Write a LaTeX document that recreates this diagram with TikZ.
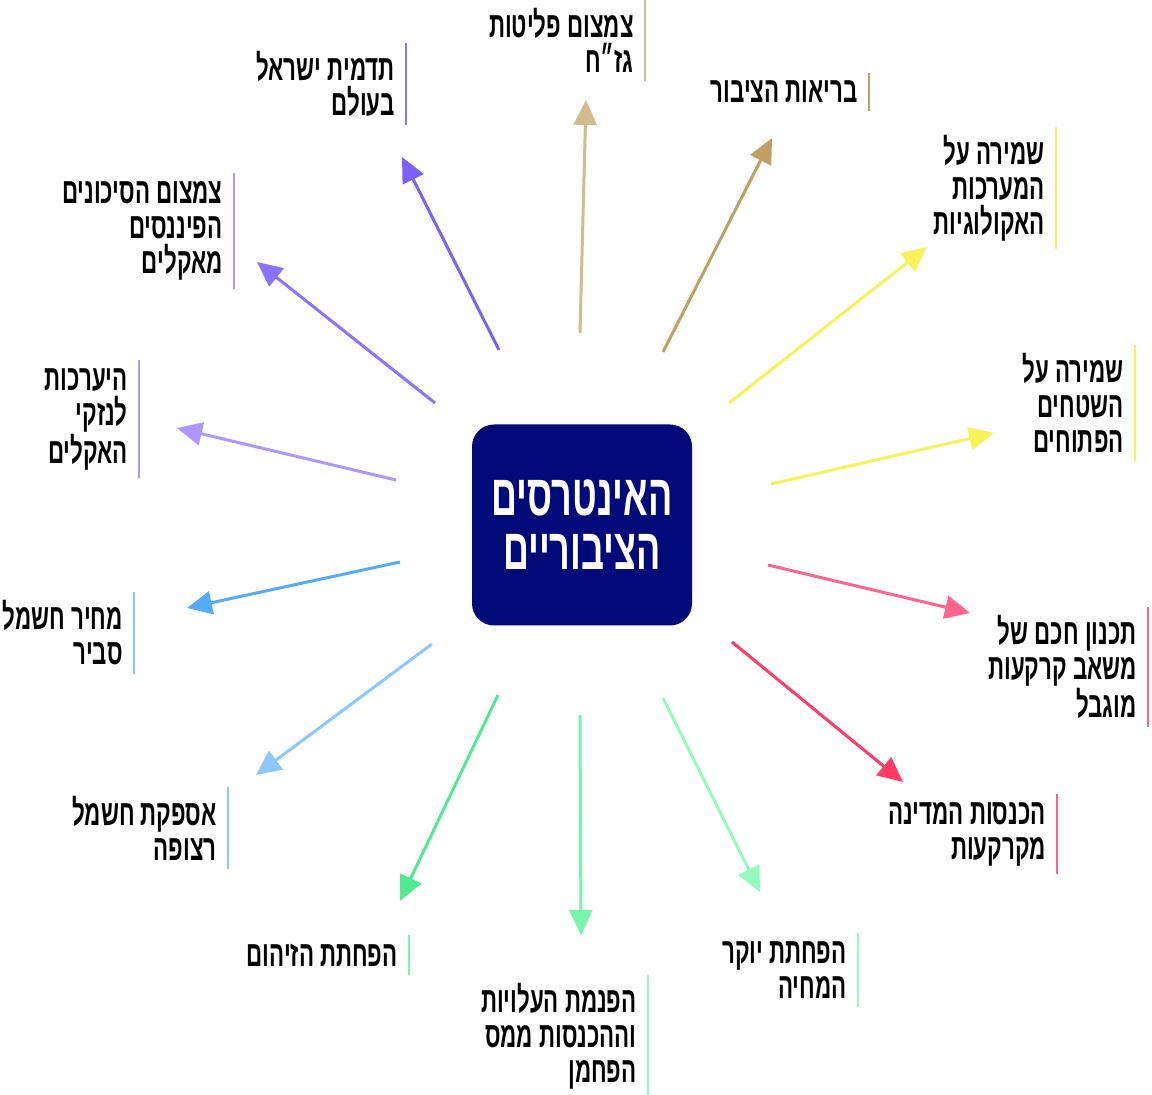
\documentclass[tikz,border=0pt]{standalone}
\usepackage{fontspec}
\usetikzlibrary{arrows.meta}
\TeXXeTstate=1
\newfontfamily\hebfont[Script=Hebrew,FakeStretch=0.62]{Liberation Sans}
\newcommand{\heb}[1]{\beginR#1\endR}
\definecolor{navy}{RGB}{0,10,120}
\definecolor{tanA}{RGB}{208,188,140}
\definecolor{tanB}{RGB}{190,160,100}
\definecolor{yel}{RGB}{248,242,90}
\definecolor{pinkA}{RGB}{255,100,140}
\definecolor{pinkB}{RGB}{255,60,100}
\definecolor{mint}{RGB}{150,250,190}
\definecolor{greenA}{RGB}{120,245,170}
\definecolor{greenB}{RGB}{80,235,145}
\definecolor{blueA}{RGB}{140,200,255}
\definecolor{blueB}{RGB}{85,170,250}
\definecolor{lav}{RGB}{175,150,255}
\definecolor{purA}{RGB}{140,115,255}
\definecolor{purB}{RGB}{125,95,250}
\tikzset{
  hub/.style={fill=navy, text=white, rounded corners=11pt, minimum width=110pt,
    minimum height=100.5pt, align=center, font=\hebfont\bfseries\fontsize{29}{27}\selectfont},
  lbl/.style={anchor=east, align=right, inner xsep=5.5pt, inner ysep=4pt,
    font=\hebfont\bfseries\fontsize{18}{17.5}\selectfont},
  arr/.style={line width=1.5pt, -{Triangle[length=12.5pt,width=11.5pt]}},
  bar/.style={line width=1pt}
}
\begin{document}
\begin{tikzpicture}[x=0.5pt,y=-0.5pt]
  \useasboundingbox (0,0) rectangle (1152,1095);
  \draw (582,525) node[hub] (hub) {\heb{האינטרסים}\\\heb{הציבוריים}};

  \draw (645,40) node[lbl] (t1) {\heb{צמצום פליטות}\\\heb{גז״ח}};
  \draw (869,92) node[lbl] (t2) {\heb{בריאות הציבור}};
  \draw (1056,188) node[lbl] (t3) {\heb{שמירה על}\\\heb{המערכות}\\\heb{האקולוגיות}};
  \draw (1135,403) node[lbl] (t4) {\heb{שמירה על}\\\heb{השטחים}\\\heb{הפתוחים}};
  \draw (1148,667) node[lbl] (t5) {\heb{תכנון חכם של}\\\heb{משאב קרקעות}\\\heb{מוגבל}};
  \draw (1057,834) node[lbl] (t6) {\heb{הכנסות המדינה}\\\heb{מקרקעות}};
  \draw (858,970) node[lbl] (t7) {\heb{הפחתת יוקר}\\\heb{המחיה}};
  \draw (648,1036) node[lbl] (t8) {\heb{הפנמת העלויות}\\\heb{וההכנסות ממס}\\\heb{הפחמן}};
  \draw (409,955) node[lbl] (t9) {\heb{הפחתת הזיהום}};
  \draw (228,828) node[lbl] (t10) {\heb{אספקת חשמל}\\\heb{רצופה}};
  \draw (134,633) node[lbl] (t11) {\heb{מחיר חשמל}\\\heb{סביר}};
  \draw (139,419) node[lbl] (t12) {\heb{היערכות}\\\heb{לנזקי}\\\heb{האקלים}};
  \draw (234,231) node[lbl] (t13) {\heb{צמצום הסיכונים}\\\heb{הפיננסים}\\\heb{מאקלים}};
  \draw (406,84) node[lbl] (t14) {\heb{תדמית ישראל}\\\heb{בעולם}};

  \draw[bar,tanA] (t1.north east) -- (t1.south east);
  \draw[bar,tanB] (t2.north east) -- (t2.south east);
  \draw[bar,yel] (t3.north east) -- (t3.south east);
  \draw[bar,yel] (t4.north east) -- (t4.south east);
  \draw[bar,pinkA] (t5.north east) -- (t5.south east);
  \draw[bar,pinkA] (t6.north east) -- (t6.south east);
  \draw[bar,mint] (t7.north east) -- (t7.south east);
  \draw[bar,mint] (t8.north east) -- (t8.south east);
  \draw[bar,greenA] (t9.north east) -- (t9.south east);
  \draw[bar,blueA] (t10.north east) -- (t10.south east);
  \draw[bar,blueA] (t11.north east) -- (t11.south east);
  \draw[bar,lav] (t12.north east) -- (t12.south east);
  \draw[bar,lav] (t13.north east) -- (t13.south east);
  \draw[bar,purA] (t14.north east) -- (t14.south east);

  \coordinate (s1) at (580,333);  \coordinate (e1) at (586,100);
  \coordinate (s2) at (663,352);  \coordinate (e2) at (772,138);
  \coordinate (s3) at (729,403);  \coordinate (e3) at (927,247);
  \coordinate (s4) at (771,484);  \coordinate (e4) at (994,433);
  \coordinate (s5) at (768,565);  \coordinate (e5) at (970,613);
  \coordinate (s6) at (732,642);  \coordinate (e6) at (903,782);
  \coordinate (s7) at (663,698);  \coordinate (e7) at (760,892);
  \coordinate (s8) at (580,715);  \coordinate (e8) at (581,935);
  \coordinate (s9) at (498,695);  \coordinate (e9) at (400,901);
  \coordinate (s10) at (432,644); \coordinate (e10) at (256,775);
  \coordinate (s11) at (400,562); \coordinate (e11) at (187,608);
  \coordinate (s12) at (396,480); \coordinate (e12) at (177,428);
  \coordinate (s13) at (435,403); \coordinate (e13) at (257,262);
  \coordinate (s14) at (499,350); \coordinate (e14) at (402,157);

  \draw[arr,tanA] (s1) -- (e1);
  \draw[arr,tanB] (s2) -- (e2);
  \draw[arr,yel] (s3) -- (e3);
  \draw[arr,yel] (s4) -- (e4);
  \draw[arr,pinkA] (s5) -- (e5);
  \draw[arr,pinkB] (s6) -- (e6);
  \draw[arr,mint] (s7) -- (e7);
  \draw[arr,greenA] (s8) -- (e8);
  \draw[arr,greenB] (s9) -- (e9);
  \draw[arr,blueA] (s10) -- (e10);
  \draw[arr,blueB] (s11) -- (e11);
  \draw[arr,lav] (s12) -- (e12);
  \draw[arr,purA] (s13) -- (e13);
  \draw[arr,purB] (s14) -- (e14);
\end{tikzpicture}
\end{document}
